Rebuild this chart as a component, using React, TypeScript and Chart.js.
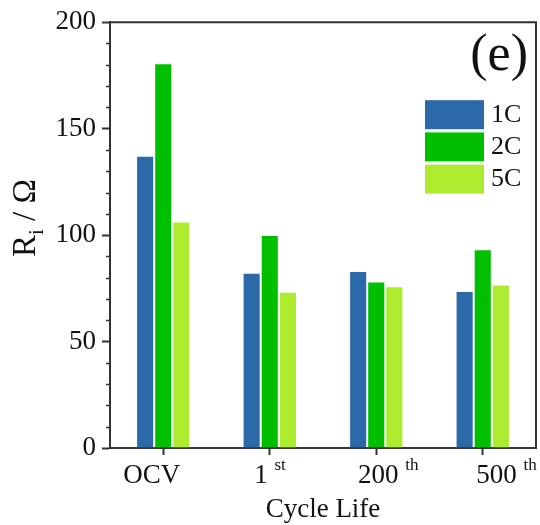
import React, { useEffect, useRef } from "react";
import { Chart, registerables } from "chart.js";

Chart.register(...registerables);

const categories = ["OCV", "1", "200", "500"];
const superscripts = ["", "st", "th", "th"];
const seriesLabels = ["1C", "2C", "5C"];
const series1C = [137.3, 82.3, 83.1, 73.8];
const series2C = [180.7, 100.0, 78.2, 93.3];
const series5C = [106.4, 73.4, 76.0, 76.8];
const seriesColors = ["#2B69A9", "#00BF00", "#AEEB2F"];
const yMin = 0;
const yMax = 200;
const yMajorStep = 50;
const yMinorStep = 10;
const xTitle = "Cycle Life";
const panelTag = "(e)";

const FONT = "'Liberation Serif', 'Times New Roman', serif";
const AXIS = "#333333";

const overlayPlugin = {
  id: "overlay",
  afterDraw(chart: any) {
    const { ctx, chartArea: ca, scales } = chart;
    const x = scales.x;
    const y = scales.y;
    ctx.save();
    // frame top & right
    ctx.strokeStyle = AXIS;
    ctx.lineWidth = 2;
    ctx.beginPath();
    ctx.moveTo(ca.left - 1, ca.top);
    ctx.lineTo(ca.right, ca.top);
    ctx.lineTo(ca.right, ca.bottom + 1);
    ctx.stroke();
    // minor y ticks
    ctx.lineWidth = 1.5;
    for (let v = yMin + yMinorStep; v < yMax; v += yMinorStep) {
      if (v % yMajorStep === 0) continue;
      const py = Math.round(y.getPixelForValue(v)) + 0.5;
      ctx.beginPath();
      ctx.moveTo(ca.left - 4, py);
      ctx.lineTo(ca.left, py);
      ctx.stroke();
    }
    // x tick labels with superscripts
    ctx.fillStyle = "#111";
    ctx.textBaseline = "alphabetic";
    const pivot = x.getPixelForValue(1) - 2;
    categories.forEach((c, i) => {
      const tick = x.getPixelForValue(i);
      const cx = pivot + (tick - pivot) * 1.11;
      ctx.font = `27px ${FONT}`;
      const wMain = ctx.measureText(c).width;
      const sp = superscripts[i] ? ctx.measureText(" ").width : 0;
      ctx.font = `17px ${FONT}`;
      const wSup = superscripts[i] ? ctx.measureText(superscripts[i]).width : 0;
      const total = wMain + sp + wSup;
      const start = cx - total / 2;
      ctx.textAlign = "left";
      ctx.font = `27px ${FONT}`;
      ctx.fillText(c, start, ca.bottom + 35);
      if (superscripts[i]) {
        ctx.font = `17px ${FONT}`;
        ctx.fillText(superscripts[i], start + wMain + sp, ca.bottom + 22);
      }
    });
    // x title
    ctx.font = `27px ${FONT}`;
    ctx.textAlign = "center";
    ctx.fillText(xTitle, (ca.left + ca.right) / 2, ca.bottom + 69);
    // y title: R_i / Ω rotated
    ctx.save();
    ctx.translate(35, (ca.top + ca.bottom) / 2 - 17);
    ctx.rotate(-Math.PI / 2);
    ctx.font = `33px ${FONT}`;
    const wR = ctx.measureText("R").width;
    const wRest = ctx.measureText(" / \u03A9").width;
    ctx.font = `21px ${FONT}`;
    const wi = ctx.measureText("i").width;
    const tot = wR + wi + wRest;
    let sx = -tot / 2;
    ctx.textAlign = "left";
    ctx.font = `33px ${FONT}`;
    ctx.fillText("R", sx, 0);
    sx += wR;
    ctx.font = `21px ${FONT}`;
    ctx.fillText("i", sx, 8);
    sx += wi;
    ctx.font = `33px ${FONT}`;
    ctx.fillText(" / \u03A9", sx, 0);
    ctx.restore();
    // panel tag
    ctx.font = `52px ${FONT}`;
    ctx.textAlign = "right";
    ctx.fillText(panelTag, ca.right - 8, ca.top + 48);
    // legend
    const lx = ca.right - 111;
    let ly = ca.top + 78;
    chart.data.datasets.forEach((ds: any) => {
      ctx.fillStyle = ds.backgroundColor;
      ctx.fillRect(lx, ly, 59, 29);
      ctx.fillStyle = "#111";
      ctx.font = `26px ${FONT}`;
      ctx.textAlign = "left";
      ctx.textBaseline = "middle";
      ctx.fillText(ds.label, lx + 66, ly + 15);
      ly += 32.2;
    });
    ctx.restore();
  },
};

export default function App() {
  const ref = useRef<HTMLCanvasElement | null>(null);
  useEffect(() => {
    if (!ref.current) return;
    const seriesValues = [series1C, series2C, series5C];
    const chart = new Chart(ref.current, {
      type: "bar",
      data: {
        labels: categories,
        datasets: seriesLabels.map((l, i) => ({
          label: l,
          data: seriesValues[i],
          backgroundColor: seriesColors[i],
          borderColor: "rgba(255,255,255,0.3)",
          borderWidth: 1,
          categoryPercentage: 0.51,
          barPercentage: 1.0,
        })),
      },
      options: {
        responsive: false,
        animation: false,
        devicePixelRatio: 1,
        layout: { padding: { left: 0, right: 4, top: 22, bottom: 0 } },
        plugins: {
          legend: { display: false },
          tooltip: { enabled: false },
          title: { display: false },
        },
        scales: {
          x: {
            type: "category",
            afterFit: (s: any) => {
              s.height = 77;
            },
            grid: {
              offset: false,
              drawOnChartArea: false,
              drawTicks: true,
              tickLength: 7,
              tickWidth: 2,
              tickColor: AXIS,
            },
            border: { color: AXIS, width: 2 },
            ticks: { display: false },
          },
          y: {
            min: yMin,
            max: yMax,
            afterFit: (s: any) => {
              s.width = 110;
            },
            ticks: {
              stepSize: yMajorStep,
              color: "#111",
              font: { family: FONT, size: 27 },
              padding: 6,
            },
            grid: {
              drawOnChartArea: false,
              drawTicks: true,
              tickLength: 8,
              tickWidth: 2,
              tickColor: AXIS,
            },
            border: { color: AXIS, width: 2 },
          },
        },
      },
      plugins: [overlayPlugin],
    });
    return () => chart.destroy();
  }, []);
  return (
    <div style={{ position: "fixed", left: 0, top: 0, width: 540, height: 525, background: "#fff" }}>
      <canvas ref={ref} width={540} height={525} style={{ width: 540, height: 525, display: "block" }} />
    </div>
  );
}
